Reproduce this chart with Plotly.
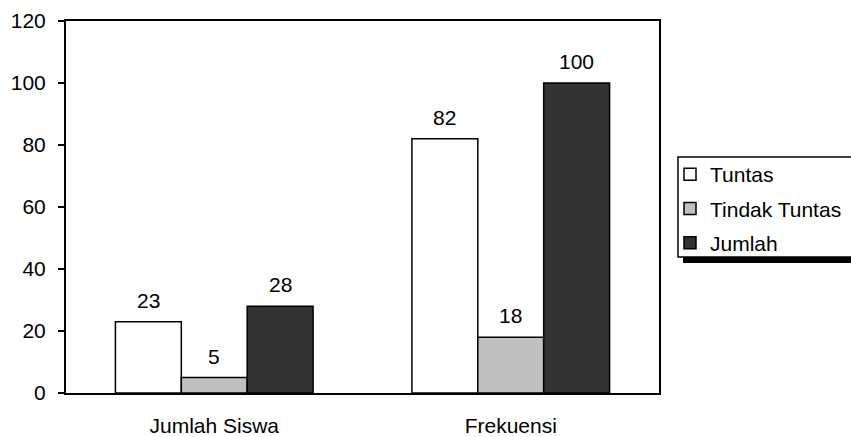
import plotly.graph_objects as go

# Categories and series values
categories = ["Jumlah Siswa", "Frekuensi"]
series_names = ["Tuntas", "Tindak Tuntas", "Jumlah"]
tuntas = [23, 82]
tindak_tuntas = [5, 18]
jumlah = [28, 100]
y_ticks = [0, 20, 40, 60, 80, 100, 120]

series_values = [tuntas, tindak_tuntas, jumlah]
fills = ["#ffffff", "#c0c0c0", "#333333"]

FONT = "Liberation Sans, Arial, sans-serif"
FS = 21
W, H = 851, 437
ML, MR, MT, MB = 66, 192, 21, 44
BARGAP = 1 / 3
plot_w = W - ML - MR
plot_h = H - MT - MB


def px_x(x):
    return (x - ML) / plot_w


def px_y(y):
    return (H - MB - y) / plot_h


fig = go.Figure()
for name, vals, fill in zip(series_names, series_values, fills):
    fig.add_trace(go.Bar(
        name=name, x=categories, y=vals,
        marker=dict(color=fill, line=dict(color="black", width=1.5)),
        legendgroup=name,
    ))

# Value labels above each bar
bar_w = plot_w / len(categories) * (1 - BARGAP) / len(series_names)
for i, vals in enumerate(series_values):
    shift = (i - (len(series_names) - 1) / 2) * bar_w
    for cat, v in zip(categories, vals):
        fig.add_annotation(
            x=cat, y=v, text=str(v), showarrow=False,
            xanchor="center", yanchor="bottom", xshift=shift, yshift=8,
            font=dict(family=FONT, size=FS, color="black"),
        )

# Legend frame with drop shadow
fig.add_shape(
    type="rect", xref="paper", yref="paper", layer="above",
    x0=px_x(683), x1=px_x(870), y0=px_y(263), y1=px_y(162),
    fillcolor="black", line=dict(width=0),
)
fig.add_shape(
    type="rect", xref="paper", yref="paper", layer="above",
    x0=px_x(678), x1=px_x(865), y0=px_y(257), y1=px_y(157),
    fillcolor="white", line=dict(color="black", width=1.5),
)

fig.update_layout(
    width=W, height=H,
    margin=dict(l=ML, r=MR, t=MT, b=MB, autoexpand=False),
    paper_bgcolor="white", plot_bgcolor="white",
    barmode="group", bargap=BARGAP, bargroupgap=0,
    font=dict(family=FONT, size=FS, color="black"),
    showlegend=True,
    legend=dict(
        x=px_x(670), y=px_y(154),
        xanchor="left", yanchor="top",
        bgcolor="rgba(0,0,0,0)", borderwidth=0,
        font=dict(family=FONT, size=FS, color="black"),
        tracegroupgap=4, itemwidth=30,
    ),
    xaxis=dict(
        showline=True, linecolor="black", linewidth=2, mirror=True,
        ticks="", showgrid=False, ticklabelstandoff=13,
        tickfont=dict(family=FONT, size=FS, color="black"),
    ),
    yaxis=dict(
        range=[0, 120], tickvals=y_ticks,
        showline=True, linecolor="black", linewidth=2, mirror=True,
        ticks="outside", ticklen=6, tickwidth=2, tickcolor="black",
        showgrid=False, zeroline=False, ticklabelstandoff=8,
        tickfont=dict(family=FONT, size=FS, color="black"),
    ),
)

fig.write_html("out.html")
